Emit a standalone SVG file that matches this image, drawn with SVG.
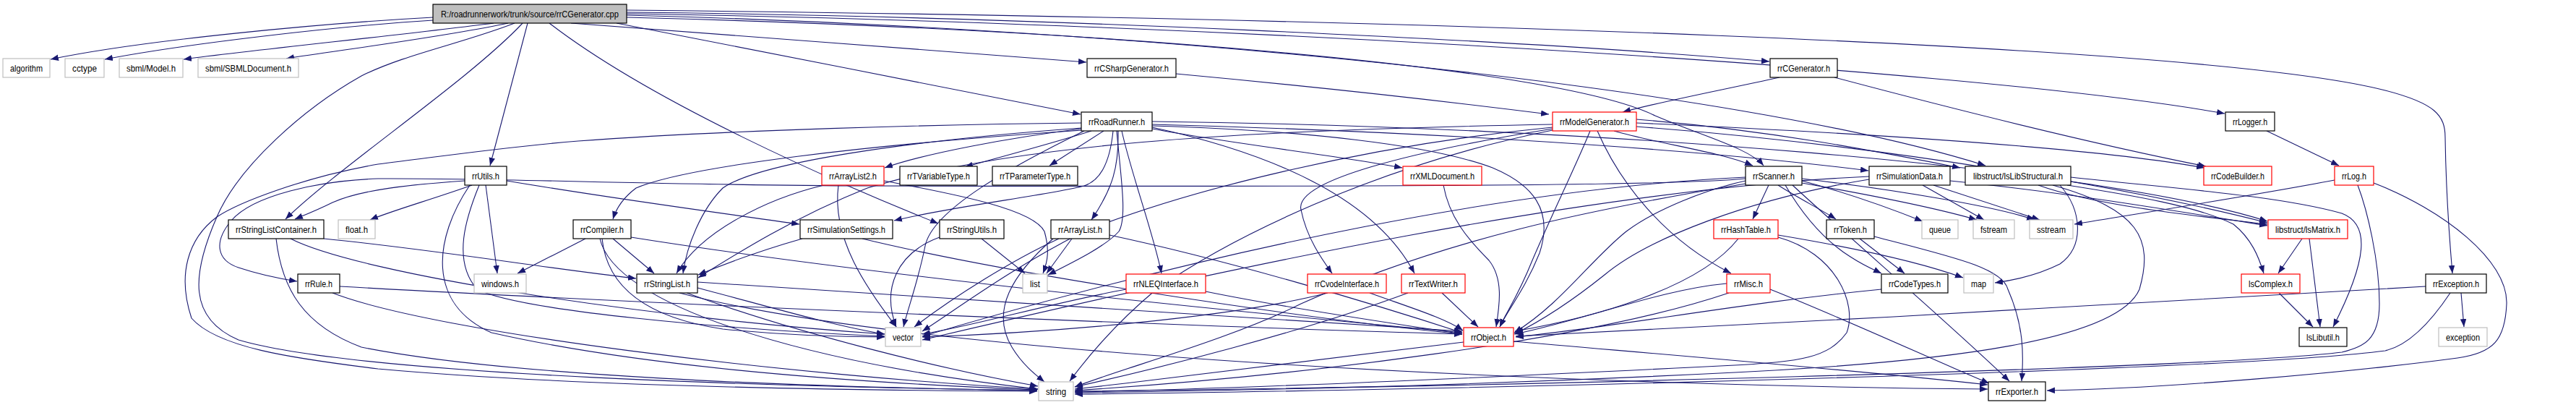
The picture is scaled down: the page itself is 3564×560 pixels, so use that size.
<svg xmlns="http://www.w3.org/2000/svg" width="3564" height="560" viewBox="0 0 3564 560">
<defs>
<marker id="a" markerWidth="12" markerHeight="9" refX="11" refY="4.25" orient="auto" markerUnits="userSpaceOnUse"><path d="M0,0 L11,4.25 L0,8.5 z" fill="#191970"/></marker>
<style>
.e{fill:none;stroke:#191970;stroke-width:1.1;marker-end:url(#a)}
.n rect{fill:#fff;stroke:#000;stroke-width:1.2}
.r rect{stroke:#ff0000}
.g rect{stroke:#bfbfbf}
.root rect{fill:#bfbfbf;stroke:#000}
text{font-family:"Liberation Sans",Arial,sans-serif;font-size:13px;fill:#000;text-anchor:middle}
</style>
</defs>
<rect width="3564" height="560" fill="#fff"/>
<g id="edges">
<path class="e" d="M599,24 C450,32 200,55 70,82"/>
<path class="e" d="M599,28 C470,36 260,60 145,82"/>
<path class="e" d="M683,32 C560,48 360,68 254,82"/>
<path class="e" d="M703,32 C620,50 480,68 396,81"/>
<path class="e" d="M790,32 C1000,48 1300,70 1503,86"/>
<path class="e" d="M853,32 C1050,70 1300,120 1495,158"/>
<path class="e" d="M867,17 C1400,22 2100,55 2448,85"/>
<path class="e" d="M867,19 C1600,30 2700,90 3078,157"/>
<path class="e" d="M867,14 C1900,25 3050,60 3300,125 C3370,143 3383,160 3383,190 C3384,260 3388,320 3393,378"/>
<path class="e" d="M867,21 C1600,40 2400,120 2747,229"/>
<path class="e" d="M867,24 C1500,40 2150,90 2290,160 C2360,190 2420,205 2440,229"/>
<path class="e" d="M730,32 L678,229"/>
<path class="e" d="M760,32 C900,140 1150,250 1298,309"/>
<path class="e" d="M723,32 C650,110 470,230 395,303"/>
<path class="e" d="M712,32 C640,60 560,75 500,105 C420,150 330,230 300,300 C265,380 260,440 330,470 C500,520 1100,535 1435,540"/>
<path class="e" d="M1627,102 C1800,118 2000,140 2143,158"/>
<path class="e" d="M2462,107 C2380,125 2300,140 2245,155"/>
<path class="e" d="M2538,107 C2700,150 2900,200 3052,230"/>
<path class="e" d="M3136,181 L3236,229"/>
<path class="e" d="M3230,249 C3120,270 2960,295 2870,310"/>
<path class="e" d="M3262,256 C3275,290 3292,360 3292,420 C3292,470 3270,480 3240,487 C3050,510 2000,536 1487,541"/>
<path class="e" d="M3284,253 C3380,290 3470,360 3468,420 C3466,470 3450,488 3400,495 C3250,515 3000,537 2832,540"/>
<path class="e" d="M3356,396 C3000,418 2500,445 2097,465"/>
<path class="e" d="M3405,405 L3409,452"/>
<path class="e" d="M3390,405 C3360,450 3330,478 3300,485 C3100,512 2000,540 1487,545"/>
<path class="e" d="M3185,330 L3152,378"/>
<path class="e" d="M3195,330 L3210,452"/>
<path class="e" d="M3153,405 L3200,452"/>
<path class="e" d="M2820,256 C2900,285 3050,300 3137,310"/>
<path class="e" d="M2860,256 C2950,270 3040,285 3090,310 C3115,330 3125,355 3132,378"/>
<path class="e" d="M2865,245 C3000,260 3150,270 3240,295 C3280,310 3275,360 3228,452"/>
<path class="e" d="M2850,256 C2880,290 2885,340 2850,365 C2820,380 2790,387 2760,391"/>
<path class="e" d="M2840,256 C2960,290 2980,330 2960,400 C2930,470 2700,500 2400,515 C2000,535 1700,540 1487,543"/>
<path class="e" d="M2447,256 L2425,303"/>
<path class="e" d="M2460,256 C2490,275 2520,290 2540,303"/>
<path class="e" d="M2470,256 C2490,290 2520,330 2560,355 C2580,368 2595,374 2603,378"/>
<path class="e" d="M2493,250 C2560,268 2620,290 2660,306"/>
<path class="e" d="M2493,253 C2590,270 2680,288 2735,304"/>
<path class="e" d="M2493,247 C2620,262 2760,285 2815,304"/>
<path class="e" d="M2415,250 C2360,262 2290,290 2250,320 C2200,360 2160,420 2095,460"/>
<path class="e" d="M2480,256 C2560,330 2700,450 2780,527"/>
<path class="e" d="M2415,254 C2200,290 2000,330 1800,420 C1700,470 1550,510 1487,535"/>
<path class="e" d="M2415,245 C2100,260 1700,340 1276,465"/>
<path class="e" d="M2415,247 C2300,258 1800,258 1200,257 C900,256 700,246 523,247 C440,250 350,270 320,305 C295,335 300,360 330,370 C360,380 385,385 411,389"/>
<path class="e" d="M2660,256 L2745,304"/>
<path class="e" d="M2675,256 L2822,304"/>
<path class="e" d="M2698,250 C2850,265 3000,290 3137,312"/>
<path class="e" d="M2586,248 C2420,275 2280,330 2220,380 C2170,420 2130,445 2095,462"/>
<path class="e" d="M2586,244 C2200,262 1700,370 1276,470"/>
<path class="e" d="M2573,330 L2635,378"/>
<path class="e" d="M2593,327 C2700,355 2770,370 2778,400 C2800,450 2800,490 2797,527"/>
<path class="e" d="M2460,325 C2550,340 2650,360 2716,384"/>
<path class="e" d="M2405,330 C2350,400 2200,440 2096,458"/>
<path class="e" d="M2460,328 C2540,350 2570,420 2555,460 C2530,495 2490,500 2400,505 C2000,525 1700,538 1487,542"/>
<path class="e" d="M2389,392 C2300,400 2200,440 2096,462"/>
<path class="e" d="M2392,405 C2200,470 1800,520 1487,540"/>
<path class="e" d="M2449,400 C2550,440 2680,500 2752,530"/>
<path class="e" d="M2603,400 C2400,420 2250,450 2097,466"/>
<path class="e" d="M2094,472 C2300,490 2550,510 2750,532"/>
<path class="e" d="M2025,473 C1800,500 1650,520 1487,538"/>
<path class="e" d="M1997,256 C2005,300 2030,330 2060,360 C2080,385 2075,420 2070,452"/>
<path class="e" d="M1895,405 C1950,425 2000,440 2024,457"/>
<path class="e" d="M1837,405 C1700,440 1450,460 1276,466"/>
<path class="e" d="M1995,405 L2045,452"/>
<path class="e" d="M1948,405 C1800,460 1600,510 1487,535"/>
<path class="e" d="M1558,400 C1450,420 1350,450 1276,462"/>
<path class="e" d="M1668,403 C1800,430 1950,450 2023,462"/>
<path class="e" d="M1483,330 L1448,378"/>
<path class="e" d="M1465,330 C1400,360 1320,410 1265,452"/>
<path class="e" d="M1457,330 C1400,380 1370,430 1400,480 C1415,505 1435,520 1445,528"/>
<path class="e" d="M1535,325 C1700,360 1900,420 2023,460"/>
<path class="e" d="M1358,330 L1418,378"/>
<path class="e" d="M1300,328 C1240,350 1220,400 1240,452"/>
<path class="e" d="M1110,330 C1040,350 995,368 966,380"/>
<path class="e" d="M1193,330 C1400,380 1800,440 2023,462"/>
<path class="e" d="M810,330 L716,378"/>
<path class="e" d="M848,330 L905,378"/>
<path class="e" d="M833,330 C840,400 900,440 1000,455 C1100,465 1180,466 1224,466"/>
<path class="e" d="M830,330 C850,420 1100,500 1436,538"/>
<path class="e" d="M873,328 C1200,380 1700,430 2023,460"/>
<path class="e" d="M965,398 C1050,420 1150,450 1224,462"/>
<path class="e" d="M950,405 C1100,460 1300,510 1436,534"/>
<path class="e" d="M965,390 C1300,410 1700,440 2023,458"/>
<path class="e" d="M940,405 C1300,500 2300,535 2750,538"/>
<path class="e" d="M448,330 C600,345 750,370 880,385"/>
<path class="e" d="M382,330 C390,400 420,450 500,480 C700,520 1100,535 1435,540"/>
<path class="e" d="M402,330 C500,380 900,440 1224,462"/>
<path class="e" d="M470,396 C900,420 1600,450 2023,462"/>
<path class="e" d="M460,405 C600,460 1100,520 1436,538"/>
<path class="e" d="M653,256 C600,275 540,292 512,304"/>
<path class="e" d="M672,256 L688,378"/>
<path class="e" d="M701,250 C850,275 1000,295 1106,310"/>
<path class="e" d="M643,250 C570,255 500,262 460,280 C440,290 420,298 408,303"/>
<path class="e" d="M663,256 C645,300 625,360 660,400 C720,430 1000,455 1224,465"/>
<path class="e" d="M650,256 C600,330 590,420 680,460 C900,510 1200,530 1435,539"/>
<path class="e" d="M2233,181 C2300,200 2380,210 2425,229"/>
<path class="e" d="M2264,165 C2450,180 2600,210 2712,232"/>
<path class="e" d="M2264,170 C2600,185 2900,205 3050,232"/>
<path class="e" d="M2264,175 C2600,200 2950,260 3137,308"/>
<path class="e" d="M2200,181 C2180,230 2150,290 2120,360 C2100,410 2085,430 2075,452"/>
<path class="e" d="M2210,181 C2240,250 2300,330 2395,378"/>
<path class="e" d="M2148,178 C1950,210 1790,250 1800,290 C1808,330 1830,360 1843,378"/>
<path class="e" d="M2148,172 C1700,180 1400,200 1200,260 C1100,300 1020,350 966,384"/>
<path class="e" d="M2148,176 C1900,200 1650,260 1500,320 C1400,370 1320,430 1276,458"/>
<path class="e" d="M2148,180 C1900,230 1700,330 1600,400 C1540,450 1500,500 1480,527"/>
<path class="e" d="M1496,178 C1400,190 1280,212 1224,232"/>
<path class="e" d="M1510,181 C1450,200 1380,218 1335,231"/>
<path class="e" d="M1527,181 L1452,229"/>
<path class="e" d="M1594,178 C1700,198 1850,215 1940,232"/>
<path class="e" d="M1498,180 C1200,200 950,230 880,260 C860,275 852,290 848,303"/>
<path class="e" d="M1496,177 C1250,195 1050,225 1000,260 C970,290 950,340 945,378"/>
<path class="e" d="M1540,181 C1535,230 1520,250 1500,257 C1450,270 1320,285 1237,305"/>
<path class="e" d="M1547,181 C1548,230 1540,260 1510,304"/>
<path class="e" d="M1552,181 C1565,240 1595,320 1607,378"/>
<path class="e" d="M1594,176 C1750,210 1900,270 1957,378"/>
<path class="e" d="M1545,181 C1550,240 1560,300 1548,320 C1530,340 1490,360 1450,380"/>
<path class="e" d="M1500,181 C1400,230 1290,290 1280,340 C1270,390 1255,430 1250,452"/>
<path class="e" d="M1496,170 C1300,172 1000,180 800,195 C700,203 620,215 523,227 C420,245 330,280 300,300 C260,330 245,380 265,440 C300,480 400,495 523,510 C800,535 1200,540 1435,541"/>
<path class="e" d="M1594,172 C1900,180 2300,200 2585,236"/>
<path class="e" d="M1594,174 C1800,180 1980,200 2065,232 C2120,255 2150,290 2130,350 C2110,400 2085,430 2075,452"/>
<path class="e" d="M1594,168 C2200,175 2900,230 3137,306"/>
<path class="e" d="M1223,250 C1330,270 1430,290 1445,320 C1452,345 1450,360 1443,378"/>
<path class="e" d="M1160,256 C1150,330 1200,400 1240,452"/>
<path class="e" d="M1140,256 C1060,275 970,320 936,378"/>
</g>
<g id="node-root" class="n root"><rect x="599" y="6" width="268" height="26"/><text x="733" y="24" textLength="246" lengthAdjust="spacingAndGlyphs">R:/roadrunnerwork/trunk/source/rrCGenerator.cpp</text></g>
<g id="node-algorithm" class="n g"><rect x="4" y="81" width="65" height="26"/><text x="36.5" y="99" textLength="45" lengthAdjust="spacingAndGlyphs">algorithm</text></g>
<g id="node-cctype" class="n g"><rect x="90" y="81" width="54" height="26"/><text x="117" y="99" textLength="34" lengthAdjust="spacingAndGlyphs">cctype</text></g>
<g id="node-model" class="n g"><rect x="165" y="81" width="88" height="26"/><text x="209" y="99" textLength="68" lengthAdjust="spacingAndGlyphs">sbml/Model.h</text></g>
<g id="node-sbmldoc" class="n g"><rect x="274" y="81" width="139" height="26"/><text x="343.5" y="99" textLength="119" lengthAdjust="spacingAndGlyphs">sbml/SBMLDocument.h</text></g>
<g id="node-csharp" class="n"><rect x="1504" y="81" width="123" height="26"/><text x="1565.5" y="99" textLength="103" lengthAdjust="spacingAndGlyphs">rrCSharpGenerator.h</text></g>
<g id="node-cgen" class="n"><rect x="2449" y="81" width="93" height="26"/><text x="2495.5" y="99" textLength="73" lengthAdjust="spacingAndGlyphs">rrCGenerator.h</text></g>
<g id="node-rr" class="n"><rect x="1496" y="155" width="98" height="26"/><text x="1545" y="173" textLength="78" lengthAdjust="spacingAndGlyphs">rrRoadRunner.h</text></g>
<g id="node-mg" class="n r"><rect x="2148" y="155" width="116" height="26"/><text x="2206" y="173" textLength="96" lengthAdjust="spacingAndGlyphs">rrModelGenerator.h</text></g>
<g id="node-logger" class="n"><rect x="3079" y="155" width="68" height="26"/><text x="3113" y="173" textLength="48" lengthAdjust="spacingAndGlyphs">rrLogger.h</text></g>
<g id="node-utils" class="n"><rect x="643" y="230" width="58" height="26"/><text x="672" y="248" textLength="38" lengthAdjust="spacingAndGlyphs">rrUtils.h</text></g>
<g id="node-al2" class="n r"><rect x="1137" y="230" width="86" height="26"/><text x="1180" y="248" textLength="66" lengthAdjust="spacingAndGlyphs">rrArrayList2.h</text></g>
<g id="node-tvar" class="n"><rect x="1245" y="230" width="107" height="26"/><text x="1298.5" y="248" textLength="87" lengthAdjust="spacingAndGlyphs">rrTVariableType.h</text></g>
<g id="node-tpar" class="n"><rect x="1373" y="230" width="118" height="26"/><text x="1432" y="248" textLength="98" lengthAdjust="spacingAndGlyphs">rrTParameterType.h</text></g>
<g id="node-xml" class="n r"><rect x="1941" y="230" width="109" height="26"/><text x="1995.5" y="248" textLength="89" lengthAdjust="spacingAndGlyphs">rrXMLDocument.h</text></g>
<g id="node-scanner" class="n"><rect x="2415" y="230" width="78" height="26"/><text x="2454" y="248" textLength="58" lengthAdjust="spacingAndGlyphs">rrScanner.h</text></g>
<g id="node-simdata" class="n"><rect x="2586" y="230" width="112" height="26"/><text x="2642" y="248" textLength="92" lengthAdjust="spacingAndGlyphs">rrSimulationData.h</text></g>
<g id="node-lslib" class="n"><rect x="2719" y="230" width="146" height="26"/><text x="2792" y="248" textLength="124" lengthAdjust="spacingAndGlyphs">libstruct/lsLibStructural.h</text></g>
<g id="node-codebuilder" class="n r"><rect x="3049" y="230" width="94" height="26"/><text x="3096" y="248" textLength="74" lengthAdjust="spacingAndGlyphs">rrCodeBuilder.h</text></g>
<g id="node-log" class="n r"><rect x="3230" y="230" width="54" height="26"/><text x="3257" y="248" textLength="34" lengthAdjust="spacingAndGlyphs">rrLog.h</text></g>
<g id="node-slc" class="n"><rect x="316" y="304" width="132" height="26"/><text x="382" y="322" textLength="112" lengthAdjust="spacingAndGlyphs">rrStringListContainer.h</text></g>
<g id="node-float" class="n g"><rect x="468" y="304" width="51" height="26"/><text x="493.5" y="322" textLength="31" lengthAdjust="spacingAndGlyphs">float.h</text></g>
<g id="node-compiler" class="n"><rect x="793" y="304" width="80" height="26"/><text x="833" y="322" textLength="60" lengthAdjust="spacingAndGlyphs">rrCompiler.h</text></g>
<g id="node-simset" class="n"><rect x="1107" y="304" width="128" height="26"/><text x="1171" y="322" textLength="108" lengthAdjust="spacingAndGlyphs">rrSimulationSettings.h</text></g>
<g id="node-strutils" class="n"><rect x="1300" y="304" width="89" height="26"/><text x="1344.5" y="322" textLength="69" lengthAdjust="spacingAndGlyphs">rrStringUtils.h</text></g>
<g id="node-arraylist" class="n"><rect x="1454" y="304" width="81" height="26"/><text x="1494.5" y="322" textLength="61" lengthAdjust="spacingAndGlyphs">rrArrayList.h</text></g>
<g id="node-hash" class="n r"><rect x="2371" y="304" width="89" height="26"/><text x="2415.5" y="322" textLength="69" lengthAdjust="spacingAndGlyphs">rrHashTable.h</text></g>
<g id="node-token" class="n"><rect x="2527" y="304" width="66" height="26"/><text x="2560" y="322" textLength="46" lengthAdjust="spacingAndGlyphs">rrToken.h</text></g>
<g id="node-queue" class="n g"><rect x="2659" y="304" width="50" height="26"/><text x="2684" y="322" textLength="30" lengthAdjust="spacingAndGlyphs">queue</text></g>
<g id="node-fstream" class="n g"><rect x="2730" y="304" width="57" height="26"/><text x="2758.5" y="322" textLength="37" lengthAdjust="spacingAndGlyphs">fstream</text></g>
<g id="node-sstream" class="n g"><rect x="2808" y="304" width="60" height="26"/><text x="2838" y="322" textLength="40" lengthAdjust="spacingAndGlyphs">sstream</text></g>
<g id="node-lsmatrix" class="n r"><rect x="3138" y="304" width="110" height="26"/><text x="3193" y="322" textLength="90" lengthAdjust="spacingAndGlyphs">libstruct/lsMatrix.h</text></g>
<g id="node-rule" class="n"><rect x="412" y="379" width="58" height="26"/><text x="441" y="397" textLength="38" lengthAdjust="spacingAndGlyphs">rrRule.h</text></g>
<g id="node-windows" class="n g"><rect x="656" y="379" width="72" height="26"/><text x="692" y="397" textLength="52" lengthAdjust="spacingAndGlyphs">windows.h</text></g>
<g id="node-strlist" class="n"><rect x="881" y="379" width="84" height="26"/><text x="923" y="397" textLength="64" lengthAdjust="spacingAndGlyphs">rrStringList.h</text></g>
<g id="node-list" class="n g"><rect x="1415" y="379" width="34" height="26"/><text x="1432" y="397" textLength="14" lengthAdjust="spacingAndGlyphs">list</text></g>
<g id="node-nleq" class="n r"><rect x="1558" y="379" width="110" height="26"/><text x="1613" y="397" textLength="90" lengthAdjust="spacingAndGlyphs">rrNLEQInterface.h</text></g>
<g id="node-cvode" class="n r"><rect x="1809" y="379" width="109" height="26"/><text x="1863.5" y="397" textLength="89" lengthAdjust="spacingAndGlyphs">rrCvodeInterface.h</text></g>
<g id="node-textwriter" class="n r"><rect x="1939" y="379" width="88" height="26"/><text x="1983" y="397" textLength="68" lengthAdjust="spacingAndGlyphs">rrTextWriter.h</text></g>
<g id="node-misc" class="n r"><rect x="2389" y="379" width="60" height="26"/><text x="2419" y="397" textLength="40" lengthAdjust="spacingAndGlyphs">rrMisc.h</text></g>
<g id="node-codetypes" class="n"><rect x="2603" y="379" width="92" height="26"/><text x="2649" y="397" textLength="72" lengthAdjust="spacingAndGlyphs">rrCodeTypes.h</text></g>
<g id="node-map" class="n g"><rect x="2717" y="379" width="41" height="26"/><text x="2737.5" y="397" textLength="21" lengthAdjust="spacingAndGlyphs">map</text></g>
<g id="node-lscomplex" class="n r"><rect x="3101" y="379" width="81" height="26"/><text x="3141.5" y="397" textLength="61" lengthAdjust="spacingAndGlyphs">lsComplex.h</text></g>
<g id="node-exceptionh" class="n"><rect x="3356" y="379" width="84" height="26"/><text x="3398" y="397" textLength="64" lengthAdjust="spacingAndGlyphs">rrException.h</text></g>
<g id="node-vector" class="n g"><rect x="1225" y="453" width="49" height="26"/><text x="1249.5" y="471" textLength="29" lengthAdjust="spacingAndGlyphs">vector</text></g>
<g id="node-object" class="n r"><rect x="2025" y="453" width="69" height="26"/><text x="2059.5" y="471" textLength="49" lengthAdjust="spacingAndGlyphs">rrObject.h</text></g>
<g id="node-lslibutil" class="n"><rect x="3181" y="453" width="66" height="26"/><text x="3214" y="471" textLength="46" lengthAdjust="spacingAndGlyphs">lsLibutil.h</text></g>
<g id="node-exception" class="n g"><rect x="3374" y="453" width="67" height="26"/><text x="3407.5" y="471" textLength="47" lengthAdjust="spacingAndGlyphs">exception</text></g>
<g id="node-string" class="n g"><rect x="1437" y="528" width="48" height="26"/><text x="1461" y="546" textLength="28" lengthAdjust="spacingAndGlyphs">string</text></g>
<g id="node-exporter" class="n"><rect x="2751" y="528" width="79" height="26"/><text x="2790.5" y="546" textLength="59" lengthAdjust="spacingAndGlyphs">rrExporter.h</text></g>
</svg>
